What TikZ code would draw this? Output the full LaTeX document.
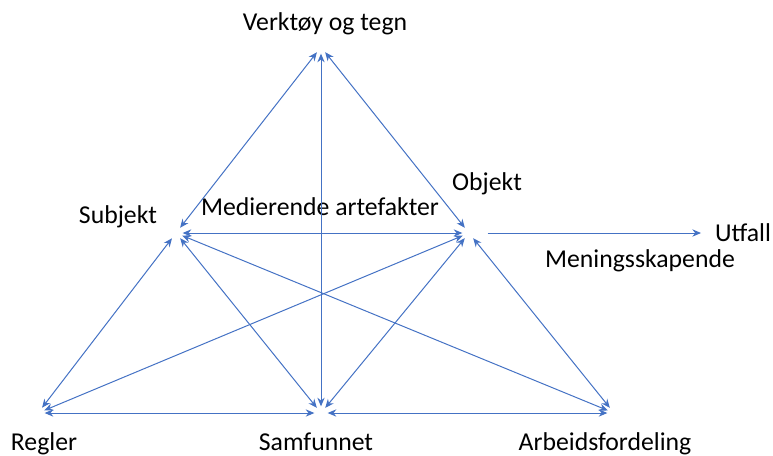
\documentclass[tikz,border=0pt]{standalone}
\usepackage{fontspec}
\setmainfont{Carlito}
\usetikzlibrary{arrows.meta}
\definecolor{linkblue}{RGB}{68,114,196}

\begin{document}
\begin{tikzpicture}[x=0.75pt, y=-0.75pt, font=\fontsize{19.3}{23}\selectfont, every node/.style={inner sep=0pt, outer sep=0pt, anchor=base}, link/.style={{Stealth[length=6.5pt, width=5.5pt]}-{Stealth[length=6.5pt, width=5.5pt]}, draw=linkblue, line width=0.75pt, shorten <=5pt, shorten >=5pt}]

	\useasboundingbox (0,0) rectangle (773,455);

	% Hjørnepunkter
	\coordinate (verktoy) at (321,47);
	\coordinate (subjekt) at (176,233);
	\coordinate (objekt) at (469,233);
	\coordinate (regler) at (38,413);
	\coordinate (samfunn) at (321,413);
	\coordinate (arbeid) at (614,413);
	\coordinate (utfallpil) at (701,233);

	% Tekster
	\node (verktoytekst) at (325,30) {Verktøy og tegn};
	\node (subjekttekst) at (118,223) {Subjekt};
	\node (artefakttekst) at (320,215) {Medierende artefakter};
	\node (objekttekst) at (487,190) {Objekt};
	\node (utfalltekst) at (743,241) {Utfall};
	\node (meningtekst) at (640,267) {Meningsskapende};
	\node (reglertekst) at (44,450) {Regler};
	\node (samfunntekst) at (316,450) {Samfunnet};
	\node (arbeidtekst) at (605,450) {Arbeidsfordeling};

	% Piler
	\draw[link] (verktoy) -- (subjekt);
	\draw[link] (verktoy) -- (samfunn);
	\draw[link] (verktoy) -- (objekt);
	\draw[link] (subjekt) -- (objekt);
	\draw[link] (subjekt) -- (regler);
	\draw[link] (subjekt) -- (samfunn);
	\draw[link] (subjekt) -- (arbeid);
	\draw[link] (objekt) -- (regler);
	\draw[link] (objekt) -- (samfunn);
	\draw[link] (objekt) -- (arbeid);
	\draw[link] (regler) -- (samfunn);
	\draw[link] (samfunn) -- (arbeid);

	\draw[-{Stealth[length=6.5pt, width=5.5pt]}, draw=linkblue, line width=0.75pt, shorten <=14pt] (objekt) -- (utfallpil);

\end{tikzpicture}
\end{document}
